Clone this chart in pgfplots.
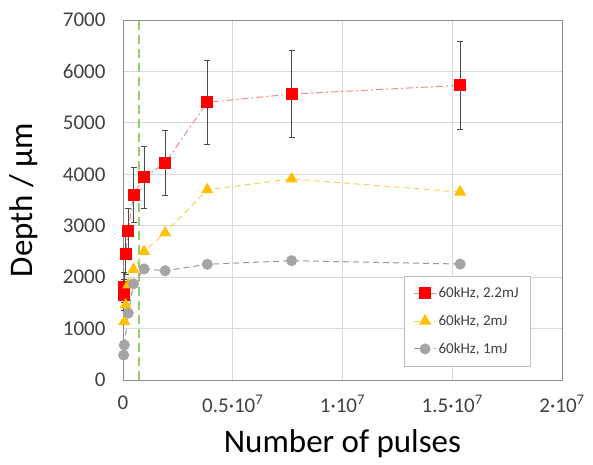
\documentclass[border=0pt]{standalone}
\usepackage{fontspec}
\setmainfont{Carlito}
\usepackage{pgfplots}
\pgfplotsset{compat=1.18}

\definecolor{redm}{RGB}{255,0,0}
\definecolor{redl}{RGB}{240,140,140}
\definecolor{goldm}{RGB}{255,192,0}
\definecolor{goldl}{RGB}{250,210,90}
\definecolor{graym}{RGB}{165,165,165}
\definecolor{grayl}{RGB}{150,150,150}
\definecolor{greenl}{RGB}{150,205,110}
\definecolor{txt}{RGB}{64,64,64}

\begin{document}
\begin{tikzpicture}
\begin{axis}[
  scale only axis,
  width=439pt, height=360pt,
  xmin=0, xmax=2e7,
  ymin=0, ymax=7000,
  xtick={0,5e6,1e7,1.5e7,2e7},
  xticklabels={0, 0.5·10\textsuperscript{7}, 1·10\textsuperscript{7}, 1.5·10\textsuperscript{7}, 2·10\textsuperscript{7}},
  ytick={0,1000,...,7000},
  scaled x ticks=false,
  yticklabel style={/pgf/number format/1000 sep={}},
  /pgf/number format/assume math mode=true,
  tick label style={font=\fontsize{21}{24}\selectfont, text=txt},
  xticklabel style={yshift=-12pt},
  yticklabel style={xshift=-14pt},
  xlabel={Number of pulses},
  ylabel={Depth / µm},
  label style={font=\fontsize{33}{38}\selectfont},
  xlabel style={yshift=-10pt},
  ylabel style={yshift=18pt},
  grid=major,
  major grid style={draw=black!15, line width=0.8pt},
  axis line style={draw=black!45, line width=0.8pt},
  major tick length=0pt,
  clip=false,
  legend cell align=left,
  legend style={at={(0.927,0.289)}, anchor=north east, draw=black!25,
    font=\fontsize{15}{18}\selectfont, text=txt,
    row sep=12pt, inner xsep=9pt, inner ysep=9pt},
  legend image code/.code={
    \draw[#1] (0pt,0pt) -- (22pt,0pt);
    \draw[#1, mark repeat=2, mark phase=2, solid, draw opacity=0] plot coordinates {(0pt,0pt) (11pt,0pt) (22pt,0pt)};
  },
]

% threshold line
\addplot[greenl, line width=2pt, dash pattern=on 9pt off 5pt, forget plot]
  coordinates {(7.5e5,0) (7.5e5,7000)};

% 60 kHz, 2.2 mJ
\addplot[redl, line width=1pt, dash pattern=on 7pt off 3pt on 2pt off 3pt,
  mark=square*, mark size=5.5pt, mark options={solid, fill=redm, draw=redm, draw opacity=1},
  error bars/.cd, y dir=both, y explicit,
  error bar style={black!70, line width=0.8pt, solid},
  error mark options={black!70, line width=0.8pt, rotate=90, mark size=3pt}]
  coordinates {
  (3e4,1650) +- (0,300)
  (6e4,1800) +- (0,300)
  (1.2e5,2450) +- (0,400)
  (2.4e5,2900) +- (0,430)
  (4.8e5,3600) +- (0,540)
  (9.6e5,3940) +- (0,600)
  (1.92e6,4220) +- (0,640)
  (3.84e6,5400) +- (0,810)
  (7.68e6,5560) +- (0,840)
  (1.536e7,5730) +- (0,860)
};
\addlegendentry{60kHz, 2.2mJ}

% 60 kHz, 2 mJ
\addplot[goldl, line width=1pt, dash pattern=on 6pt off 4pt,
  mark=triangle*, mark size=6pt, mark options={solid, fill=goldm, draw=goldm, draw opacity=1}]
  coordinates {
  (6e4,1135)
  (1.2e5,1460)
  (2.4e5,1850)
  (4.8e5,2150)
  (9.6e5,2500)
  (1.92e6,2860)
  (3.84e6,3700)
  (7.68e6,3910)
  (1.536e7,3655)
};
\addlegendentry{60kHz, 2mJ}

% 60 kHz, 1 mJ
\addplot[grayl, line width=1pt, dash pattern=on 6pt off 4pt,
  mark=*, mark size=5pt, mark options={solid, fill=graym, draw=graym, draw opacity=1}]
  coordinates {
  (3e4,485)
  (6e4,680)
  (2.4e5,1300)
  (4.8e5,1870)
  (9.6e5,2160)
  (1.92e6,2125)
  (3.84e6,2250)
  (7.68e6,2320)
  (1.536e7,2255)
};
\addlegendentry{60kHz, 1mJ}

\end{axis}
\pgfresetboundingbox
\path (-123pt,-84pt) rectangle (470pt,380pt);
\end{tikzpicture}
\end{document}
